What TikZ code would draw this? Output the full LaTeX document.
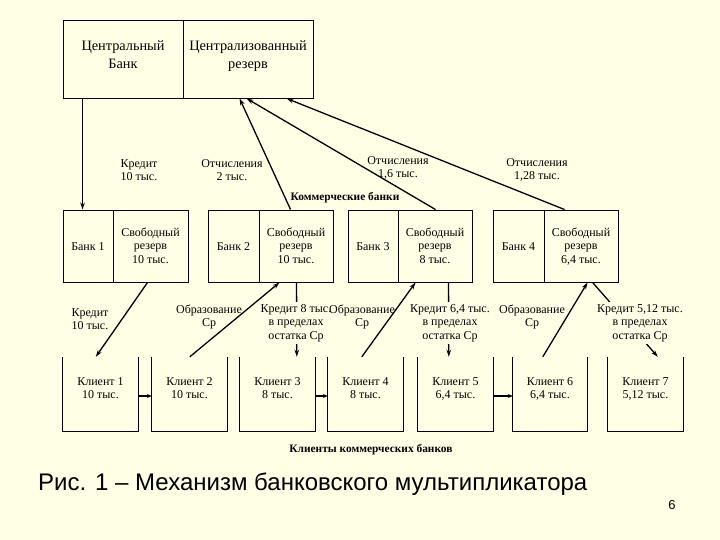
\documentclass[tikz,border=0pt]{standalone}
\usepackage{fontspec}
\setmainfont{Liberation Serif}
\newfontfamily\capfont{Liberation Sans}
\usetikzlibrary{arrows.meta,calc}
\definecolor{bg}{HTML}{FFFFE6}
\tikzset{
  box/.style={draw, line width=0.9pt, inner sep=0pt, minimum height=#1},
  openbox/.style={inner sep=0pt, minimum width=75pt, minimum height=74pt},
  txt/.style={align=center, font=\fontsize{12}{13.5}\selectfont, inner sep=1pt},
  btxt/.style={txt, anchor=base},
  cuttxt/.style={txt, fill=bg, inner sep=2pt},
  arr/.style={line width=1.3pt, -{Stealth[length=7pt,width=4.5pt]}},
  sarr/.style={line width=1.6pt, -{Stealth[length=5pt,width=4pt]}},
  bigtxt/.style={align=center, font=\fontsize{14.3}{18}\selectfont, inner sep=0pt, anchor=base},
  boldtxt/.style={font=\fontsize{11.4}{13}\selectfont\bfseries, inner sep=1pt},
}
\begin{document}
\begin{tikzpicture}[x=1pt,y=-1pt]
\useasboundingbox (0,0) rectangle (720,540);
\fill[bg] (0,0) rectangle (720,540);
% central bank
\node[box=78pt, minimum width=120pt] (cbL) at (123,59) {};
\node[box=78pt, minimum width=130pt] (cbR) at (248,59) {};
\node[bigtxt] (cbLt) at (cbL.center |- 0,69) {Центральный\\Банк};
\node[bigtxt] (cbRt) at (cbR.center |- 0,69) {Централизованный\\резерв};
% banks
\node[box=72pt, minimum width=50pt] (b1) at (88,246) {};
\node[box=72pt, minimum width=75pt] (r1) at (150.5,246) {};
\node[box=72pt, minimum width=51pt] (b2) at (233.5,246) {};
\node[box=72pt, minimum width=74pt] (r2) at (296,246) {};
\node[box=72pt, minimum width=50pt] (b3) at (373,246) {};
\node[box=72pt, minimum width=74pt] (r3) at (435,246) {};
\node[box=72pt, minimum width=51pt] (b4) at (518.5,246) {};
\node[box=72pt, minimum width=74pt] (r4) at (581,246) {};
\foreach \b/\t in {b1/{Банк 1}, b2/{Банк 2}, b3/{Банк 3}, b4/{Банк 4}}
  \node[btxt] (\b t) at (\b.center |- 0,250) {\t};
\foreach \r/\t in {r1/{10 тыс.}, r2/{10 тыс.}, r3/{8 тыс.}, r4/{6,4 тыс.}}
  \node[btxt] (\r t) at (\r.center |- 0,263) {Свободный\\резерв\\\t};
% clients
\node[openbox] (c1) at (100.5,394) {};
\node[openbox] (c2) at (189.5,394) {};
\node[openbox] (c3) at (277.5,394) {};
\node[openbox] (c4) at (365.5,394) {};
\node[openbox] (c5) at (455.5,394) {};
\node[openbox, minimum width=74pt] (c6) at (550,394) {};
\node[openbox] (c7) at (645.5,394) {};
\foreach \c/\t in {c1/{Клиент 1\\10 тыс.}, c2/{Клиент 2\\10 тыс.}, c3/{Клиент 3\\8 тыс.}, c4/{Клиент 4\\8 тыс.}, c5/{Клиент 5\\6,4 тыс.}, c6/{Клиент 6\\6,4 тыс.}, c7/{Клиент 7\\5,12 тыс.}}{
  \draw[line width=0.9pt] (\c.north west) |- (\c.south east) -- (\c.north east);
  \node[btxt] (\c t) at (\c.center |- 0,398.5) {\t};
}
% connectors top
\draw[arr] ([xshift=20pt]cbL.south west) -- ([xshift=20pt]b1.north west);
\draw[arr] ([xshift=32pt]r2.north west) -- ([xshift=57pt]cbR.south west);
\draw[arr] ([xshift=38pt]r3.north west) -- ([xshift=64pt]cbR.south west);
\draw[arr] ([xshift=21pt]r4.north west) -- ([xshift=104pt]cbR.south west);
% connectors bottom
\draw[arr] ([xshift=35pt]r1.south west) -- ([xshift=33pt]c1.north west);
\draw[arr] ([xshift=38pt]c2.north west) -- ([xshift=21pt]r2.south west);
\draw[arr] ([xshift=38pt]r2.south west) -- ([xshift=57pt]c3.north west);
\draw[arr] ([xshift=34pt]c4.north west) -- ([xshift=18pt]r3.south west);
\draw[arr] ([xshift=51pt]r3.south west) -- ([xshift=31pt]c5.north west);
\draw[arr] ([xshift=30pt]c6.north west) -- ([xshift=44pt]r4.south west);
\draw[arr] ([xshift=49pt]r4.south west) -- ([xshift=50pt]c7.north west);
% client arrows
\draw[sarr] ([yshift=-2pt]c1.east) -- ([yshift=-2pt]c2.west);
\draw[sarr] ([yshift=-2pt]c3.east) -- ([yshift=-2pt]c4.west);
\draw[sarr] ([yshift=-2pt]c5.east) -- ([yshift=-2pt]c6.west);
% labels top
\node[txt] (l1) at (139,170) {Кредит\\10 тыс.};
\node[txt] (l2) at (232,170) {Отчисления\\2 тыс.};
\node[txt] (l3) at (398,168) {Отчисления\\1,6 тыс.};
\node[txt] (l4) at (537,170) {Отчисления\\1,28 тыс.};
\node[boldtxt] (kb) at (345,198) {Коммерческие банки};
% labels bottom
\node[txt] (m1) at (90,319) {Кредит\\10 тыс.};
\node[txt] (m2) at (209,317) {Образование\\Ср};
\node[cuttxt] (m3) at (296,323) {Кредит 8 тыс.\\в пределах\\остатка Ср};
\node[txt] (m4) at (362,317) {Образование\\Ср};
\node[cuttxt] (m5) at (450,323) {Кредит 6,4 тыс.\\в пределах\\остатка Ср};
\node[txt] (m6) at (532,317) {Образование\\Ср};
\node[cuttxt] (m7) at (640,323) {Кредит 5,12 тыс.\\в пределах\\остатка Ср};
\node[boldtxt] (kl) at (371,450) {Клиенты коммерческих банков};
% caption
\node[anchor=west, font=\capfont\fontsize{24}{28}\selectfont, inner sep=0pt] (cap) at (38,484) {Рис. 1 – Механизм банковского мультипликатора};
\node[font=\capfont\fontsize{13}{15}\selectfont, inner sep=0pt] (pg) at (672,505) {6};
\end{tikzpicture}
\end{document}
